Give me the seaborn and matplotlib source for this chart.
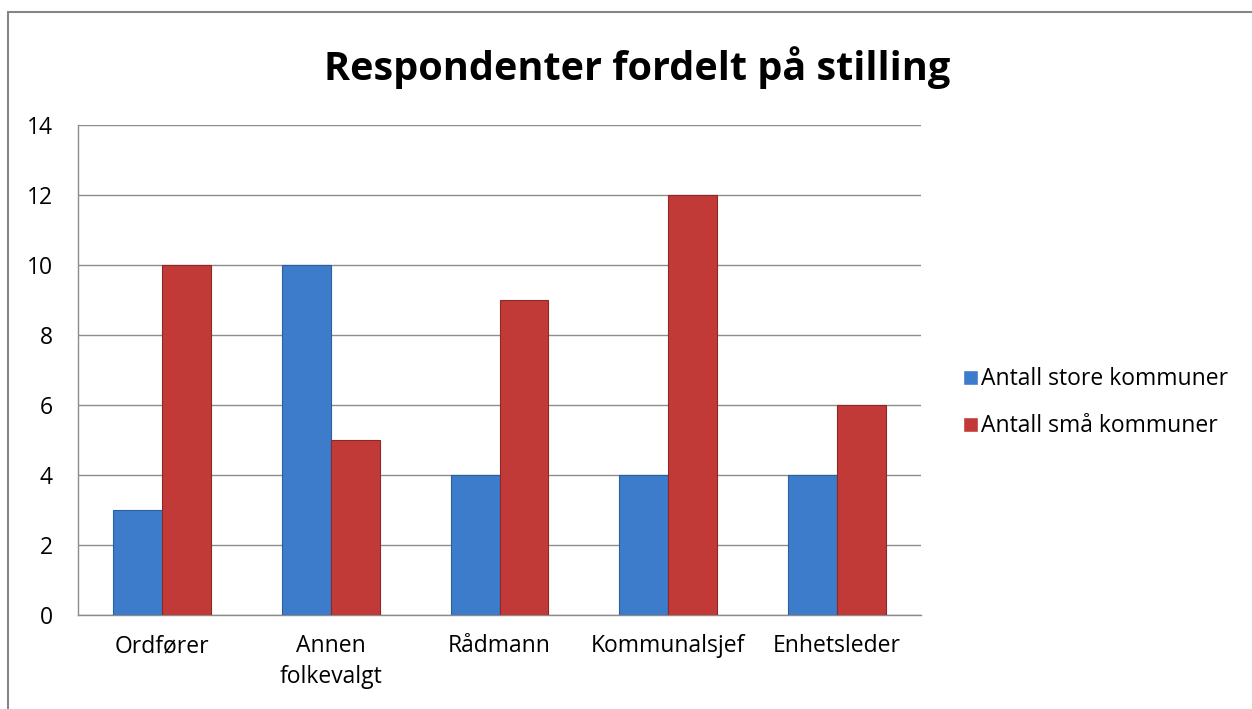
#!/usr/bin/env python3

from matplotlib import pyplot as plt
from matplotlib.patches import Rectangle
import numpy as np
import pandas as pd
import seaborn as sns

categories = ['Ordfører', 'Annen\nfolkevalgt', 'Rådmann', 'Kommunalsjef', 'Enhetsleder']
store = [3, 10, 4, 4, 4]
smaa = [10, 5, 9, 12, 6]
series = ['Antall store kommuner', 'Antall små kommuner']
colors = ['#3d7cca', '#c23a38']
edges = ['#2c5f9e', '#8e2826']

sns.set_style('white')
plt.rcParams['font.family'] = ['Open Sans', 'DejaVu Sans']
plt.rcParams['text.color'] = 'black'

df = pd.DataFrame({
    'stilling': categories * 2,
    'antall': store + smaa,
    'serie': [series[0]] * len(categories) + [series[1]] * len(categories),
})

fig = plt.figure(figsize=(12.52, 7.09), dpi=100)
ax = fig.add_axes([78 / 1252, 1 - 615 / 709, 843 / 1252, 490 / 709])

sns.barplot(data=df, x='stilling', y='antall', hue='serie', palette=colors,
            width=0.58, saturation=1, ax=ax, zorder=3)

for i, cont in enumerate(ax.containers):
    for bar in cont:
        bar.set_edgecolor(edges[i])
        bar.set_linewidth(0.8)

ax.set_xlim(-0.5, len(categories) - 0.5)
ax.set_ylim(0, 14)
ax.set_yticks(np.arange(0, 15, 2))
ax.yaxis.grid(True, color='#8c8c8c', linewidth=1.0, zorder=0)
ax.set_axisbelow(True)
ax.set_xlabel('')
ax.set_ylabel('')

for s in ['top', 'right']:
    ax.spines[s].set_visible(False)
for s in ['left', 'bottom']:
    ax.spines[s].set_color('#8c8c8c')
    ax.spines[s].set_linewidth(1.0)

FS = 16.5
ax.set_xticks(np.arange(-0.5, len(categories), 1.0), minor=True)
ax.tick_params(axis='x', which='major', length=0, pad=14, labelsize=FS, labelcolor='black')
ax.tick_params(axis='x', which='minor', length=6, color='#8c8c8c', width=1.0)
ax.tick_params(axis='y', length=6, color='#8c8c8c', width=1.0, pad=12, labelsize=FS,
               labelcolor='black')
for lbl in ax.get_xticklabels():
    lbl.set_linespacing(1.35)

handles, labels = ax.get_legend_handles_labels()
ax.legend(handles, labels, loc='center left', bbox_to_anchor=(1.025, 0.433),
          frameon=False, fontsize=FS, handlelength=0.65, handleheight=0.65,
          handletextpad=0.15, labelspacing=1.0)

fig.text(0.509, 0.904, 'Respondenter fordelt på stilling', ha='center', va='center',
         fontsize=28.5, fontweight='bold', color='black')

fig.patches.append(Rectangle((8 / 1252, -0.1), 1.2, 1 - 12 / 709 + 0.1,
                             transform=fig.transFigure, fill=False,
                             edgecolor='#868686', linewidth=1.5))

plt.savefig('out.png', dpi=100)
